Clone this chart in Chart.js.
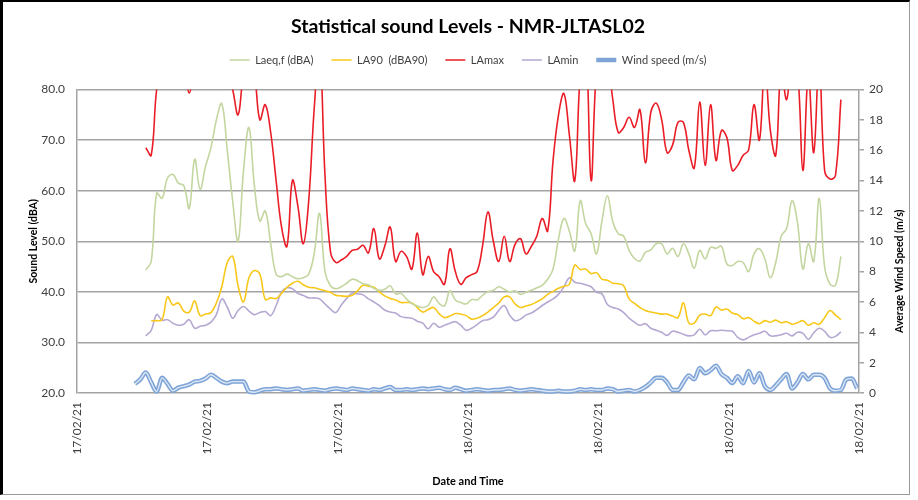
<!DOCTYPE html>
<html>
<head>
<meta charset="utf-8">
<title>Statistical sound Levels - NMR-JLTASL02</title>
<script src="https://cdn.jsdelivr.net/npm/chart.js@4.4.1/dist/chart.umd.min.js"></script>
<style>
  html, body { margin: 0; padding: 0; background: #fff; }
  #wrap { position: relative; width: 918px; height: 500px; overflow: hidden; }
  #frame {
    position: absolute; left: 0; top: 0; width: 906px; height: 492px;
    border-left: 3px solid #000; border-top: 2px solid #000;
    border-right: 1px solid #9a9a9a; border-bottom: 1px solid #9a9a9a;
    pointer-events: none;
  }
</style>
</head>
<body>
<div id="wrap">
  <canvas id="chart" width="918" height="500"></canvas>
  <div id="frame"></div>
</div>
<script>
// 15 minute readings, first one at 17/02 08:40 (hours counted from 17/02 00:00)
const firstHour = 8.6667;
const stepHours = 0.25;

const xTickLabels = ['17/02/21', '17/02/21', '17/02/21', '18/02/21', '18/02/21', '18/02/21', '18/02/21'];

const laeq = [null, null,
  44.3, 46, 59.5, 58.5, 62.5, 63.2, 61.5, 61, 56.5, 66.2,
  60.3, 64.8, 68.5, 74, 77.2, 68, 58, 50, 64, 72.5,
  61, 54, 56, 49.5, 43.5, 43, 43.5, 43, 42.6, 42.8,
  43.5, 47.5, 55.5, 44, 41.2, 40.6, 41, 41.7, 42.5, 42.2,
  41.6, 41.4, 40.7, 40.3, 40.5, 41.2, 39.6, 39.7, 38.6, 37.7,
  37.2, 36.9, 37.3, 39, 37.7, 37.2, 40.2, 38.4, 37.9, 37.6,
  38.5, 38.4, 39.3, 40, 40.3, 41, 40.5, 40, 40.2, 39.5,
  39.9, 40.3, 40.8, 41.3, 42.5, 44.5, 50.5, 54.5, 52, 48.1,
  58, 53.5, 51.5, 47.5, 54, 59, 53.8, 51.5, 51, 48.2,
  46.6, 46.1, 47.8, 48.3, 49.5, 49.5, 47.5, 48.6, 47, 49.5,
  47.5, 44.7, 48.2, 46.5, 48.8, 48.6, 49, 45.5, 45.2, 46,
  45.8, 44, 47.5, 48.5, 46.5, 42.8, 45.8, 51, 52.5, 58,
  53.7, 44.5, 49.5, 46, 58.5, 45, 41.5, 41.3, 47,
  null, null, null];

const la90 = [null, null,
  null, 34.3, 34.3, 34.5, 39, 37.4, 37.8, 36.2, 36, 38.2,
  35.3, 35.6, 35.9, 37.8, 41, 45.8, 47, 41.2, 38, 42.8,
  44.2, 43.5, 38.5, 38.8, 38.7, 39.7, 40.9, 41.7, 42.1, 41.4,
  40.9, 40.8, 40.5, 40.2, 39.9, 39.3, 39.2, 39.1, 39.3, 40.2,
  41.3, 41.1, 40.9, 40, 39.2, 38.7, 38.4, 37.9, 37.9, 37.8,
  36.9, 36, 36.5, 36.9, 35.7, 34.9, 35.2, 35.7, 35.6, 35.3,
  34.6, 34.8, 35.3, 36, 36.9, 37.8, 39, 39, 37.6, 36.9,
  37.2, 37.5, 38, 38.6, 39.5, 40.1, 40.7, 41.1, 41.5, 45.3,
  44.4, 44.5, 43.6, 43.8, 42.5, 42.3, 41.7, 41.6, 41.2, 38.6,
  37.7, 36.9, 36.3, 36, 35.8, 35.6, 35.6, 35.2, 34.9, 37.8,
  33.8, 33.8, 35.4, 35.6, 35.3, 37, 36.4, 36.6, 35.8, 35.5,
  34.7, 34.9, 34.2, 33.7, 34.3, 34, 34.4, 33.9, 34.1, 33.6,
  33.9, 34.3, 33.4, 33.9, 33.6, 34.9, 36.3, 35.4, 34.5,
  null, null, null];

const laMax = [null, null,
  68.5, 67, 80, 85, 87, 88, 87, 85, 79.3, 85,
  88, 90, 88, 87, 86, 84, 80, 75, 83, 86,
  83, 74, 77, 71.5, 62, 52.8, 49, 62, 57, 49.5,
  58, 76, 88, 63, 48, 45.8, 46.3, 47, 48.2, 48.4,
  49.2, 47.7, 52.5, 46.5, 49, 52.8, 46, 48, 47, 44.5,
  51.6, 43.4, 47, 44, 43, 41.5, 48.5, 44, 41.5, 42.8,
  43.4, 44, 49, 55.8, 50, 46, 51, 46, 49.4, 50.5,
  47.5, 49, 51, 54.5, 52, 66, 75, 79.2, 71, 62,
  83, 90, 62, 84, 88, 86, 78, 71.5, 72.5, 74.5,
  72.5, 76, 65.5, 75.5, 77.3, 74, 67.5, 69, 73.5, 73.5,
  68, 64.5, 77.5, 65, 77, 66, 71.9, 70.5, 64, 65,
  67, 68, 77, 70, 85, 72, 67, 84, 78, 86,
  84, 64, 83, 67.5, 86, 64, 62.3, 63, 78,
  null, null, null];

const laMin = [null, null,
  31.3, 32.4, 35.5, 34.4, 34.5, 33.8, 33.4, 33.6, 34.5, 32.8,
  33.2, 33.4, 34, 35.5, 38.6, 37, 34.8, 36.3, 37.1, 36.2,
  35.5, 35.9, 36.1, 35.3, 37.3, 40, 40.8, 40.6, 39.7, 39.3,
  38.8, 38.8, 38.6, 37.6, 36.6, 35.9, 37.4, 38.7, 39.7, 39.6,
  39.4, 38.6, 38, 37.3, 36.4, 36, 35.8, 35.1, 34.9, 34.8,
  34.2, 33.8, 32.7, 33.8, 33, 33.4, 33.8, 34.1, 33.4, 32.4,
  32.8, 33.5, 34.3, 34.5, 35, 36.3, 37.3, 35.4, 34.3, 34.6,
  35.4, 35.8, 36.5, 37.3, 38, 38.6, 39.5, 41, 42.8, 41.9,
  41.7, 41.4, 41, 39.9, 39.6, 37.5, 36.9, 36.6, 35.9, 34.8,
  34, 33.4, 33.7, 32.8, 32.4, 32, 31.4, 32.2, 32, 31.6,
  31.3, 31.5, 32.6, 31.5, 32.3, 32.3, 32.4, 32.3, 32.2, 31,
  30.5, 31, 31.5, 31.8, 32.2, 31.3, 31.3, 31.5, 31.8, 31.3,
  32, 31.8, 30.6, 31.9, 32.8, 32.2, 31, 31.2, 32.1,
  null, null, null];

const windSpeed = [0.6, 0.9,
  1.35, 0.7, 0.1, 1.0, 0.6, 0.15, 0.35, 0.45, 0.55, 0.75,
  0.8, 0.95, 1.2, 1.0, 0.75, 0.65, 0.75, 0.75, 0.75, 0.1,
  0.05, 0.15, 0.25, 0.25, 0.3, 0.25, 0.2, 0.25, 0.3, 0.15,
  0.2, 0.25, 0.2, 0.15, 0.25, 0.3, 0.25, 0.2, 0.3, 0.25,
  0.2, 0.15, 0.25, 0.2, 0.3, 0.4, 0.2, 0.2, 0.25, 0.2,
  0.25, 0.3, 0.25, 0.3, 0.35, 0.25, 0.2, 0.35, 0.25, 0.15,
  0.2, 0.25, 0.2, 0.15, 0.2, 0.2, 0.25, 0.3, 0.2, 0.15,
  0.2, 0.25, 0.2, 0.15, 0.1, 0.1, 0.15, 0.1, 0.1, 0.15,
  0.25, 0.2, 0.25, 0.2, 0.2, 0.3, 0.25, 0.1, 0.15, 0.2,
  0.1, 0.2, 0.4, 0.7, 1.0, 1.0, 0.7, 0.2, 0.2, 0.7,
  1.15, 0.9, 1.65, 1.3, 1.5, 1.8, 1.25, 1.0, 0.65, 1.1,
  0.65, 1.45, 0.7, 1.3, 0.45, 0.2, 0.5, 0.9, 1.25, 0.3,
  0.7, 1.25, 0.9, 1.2, 1.2, 1.0, 0.3, 0.15, 0.2, 0.9,
  0.95, 0.3];

const times = windSpeed.map((_, i) => firstHour + i * stepHours);
const toPoints = (values) => values.map((v, i) => ({ x: times[i], y: v }));

const FONT = 'Lato, "Liberation Sans", sans-serif';
const GRID = '#a3a3a3';
const WIND_DARK = '#7ea4d8';
const WIND_LIGHT = '#dde7f4';

// double line swatch for the wind legend entry
const windSwatch = document.createElement('canvas');
windSwatch.width = 22;
windSwatch.height = 7;
(function () {
  const c = windSwatch.getContext('2d');
  c.fillStyle = WIND_DARK;
  c.fillRect(0, 1, 22, 5);
  c.fillStyle = WIND_LIGHT;
  c.fillRect(0, 3, 22, 1.4);
})();

// right axis title reads bottom-to-top like the left one
const rightTitle = {
  id: 'rightTitle',
  afterDraw(chart) {
    const s = chart.scales.wind;
    const ctx = chart.ctx;
    ctx.save();
    ctx.translate(s.right - 10, (s.top + s.bottom) / 2 + 30);
    ctx.rotate(-Math.PI / 2);
    ctx.font = 'bold 10.5px ' + FONT;
    ctx.fillStyle = '#000';
    ctx.textAlign = 'center';
    ctx.textBaseline = 'middle';
    ctx.fillText('Average Wind Speed (m/s)', 0, 0);
    ctx.restore();
  }
};

new Chart(document.getElementById('chart'), {
  type: 'line',
  data: {
    datasets: [
      { label: 'Laeq,f (dBA)', data: toPoints(laeq), borderColor: '#c4d6a0', borderWidth: 1.6, yAxisID: 'y' },
      { label: 'LA90  (dBA90)', data: toPoints(la90), borderColor: '#f7c81a', borderWidth: 1.6, yAxisID: 'y' },
      { label: 'LAmax', data: toPoints(laMax), borderColor: '#ea1d27', borderWidth: 1.6, yAxisID: 'y' },
      { label: 'LAmin', data: toPoints(laMin), borderColor: '#b5a8d2', borderWidth: 1.6, yAxisID: 'y' },
      {
        label: 'Wind speed (m/s)', data: toPoints(windSpeed), borderColor: WIND_DARK, borderWidth: 4.5,
        yAxisID: 'wind', cubicInterpolationMode: 'monotone', clip: 5, pointStyle: windSwatch
      },
      {
        label: 'wind-inner', data: toPoints(windSpeed), borderColor: WIND_LIGHT, borderWidth: 1.4,
        yAxisID: 'wind', cubicInterpolationMode: 'monotone', clip: 5, order: -1
      }
    ]
  },
  options: {
    responsive: false,
    animation: false,
    devicePixelRatio: 1,
    layout: { padding: { left: 26, right: 8, top: 4, bottom: 8 } },
    elements: {
      point: { radius: 0, hoverRadius: 0 },
      line: { tension: 0.4, fill: false }
    },
    scales: {
      x: {
        type: 'linear',
        min: 6,
        max: 42,
        grid: { display: false, drawTicks: false },
        border: { display: false },
        ticks: {
          stepSize: 6,
          autoSkip: false,
          minRotation: 90,
          maxRotation: 90,
          padding: 9,
          color: '#404040',
          font: { family: FONT, size: 12 },
          callback: (v) => xTickLabels[Math.round((v - 6) / 6)]
        },
        title: {
          display: true,
          text: 'Date and Time',
          color: '#000',
          font: { family: FONT, size: 11, weight: 'bold' },
          padding: { top: 0, bottom: 4 }
        },
        afterFit: (s) => { s.height = 99; }
      },
      y: {
        position: 'left',
        min: 20,
        max: 80,
        grid: { color: GRID, lineWidth: 1.5, drawTicks: false },
        border: { display: true, color: GRID, width: 1.5 },
        ticks: {
          stepSize: 10,
          padding: 12,
          color: '#404040',
          font: { family: FONT, size: 12 },
          callback: (v) => v.toFixed(1)
        },
        title: {
          display: true,
          text: 'Sound Level (dBA)',
          color: '#000',
          font: { family: FONT, size: 10.5, weight: 'bold' },
          padding: { top: 1, bottom: 0 }
        },
        afterFit: (s) => { s.width = 51; }
      },
      wind: {
        position: 'right',
        min: 0,
        max: 20,
        grid: { drawOnChartArea: false, color: GRID, lineWidth: 1.5, tickLength: 5 },
        border: { display: true, color: GRID, width: 1.5 },
        ticks: {
          stepSize: 2,
          padding: 5,
          color: '#404040',
          font: { family: FONT, size: 12 }
        },
        afterFit: (s) => { s.width = 51; }
      }
    },
    plugins: {
      title: {
        display: true,
        text: 'Statistical sound Levels - NMR-JLTASL02',
        color: '#000',
        font: { family: FONT, size: 19.5, weight: 'bold', lineHeight: 1 },
        padding: { top: 13, bottom: 0 }
      },
      // empty spacer between the legend and the plot area
      subtitle: {
        display: true,
        text: '',
        weight: 500,
        font: { size: 1, lineHeight: 1 },
        padding: { top: 13, bottom: 0 }
      },
      legend: {
        labels: {
          usePointStyle: true,
          pointStyle: 'line',
          pointStyleWidth: 20,
          padding: 18,
          color: '#404040',
          font: { family: FONT, size: 11 },
          filter: (item) => item.text !== 'wind-inner'
        }
      },
      tooltip: { enabled: false }
    }
  },
  plugins: [rightTitle]
});
</script>
</body>
</html>
